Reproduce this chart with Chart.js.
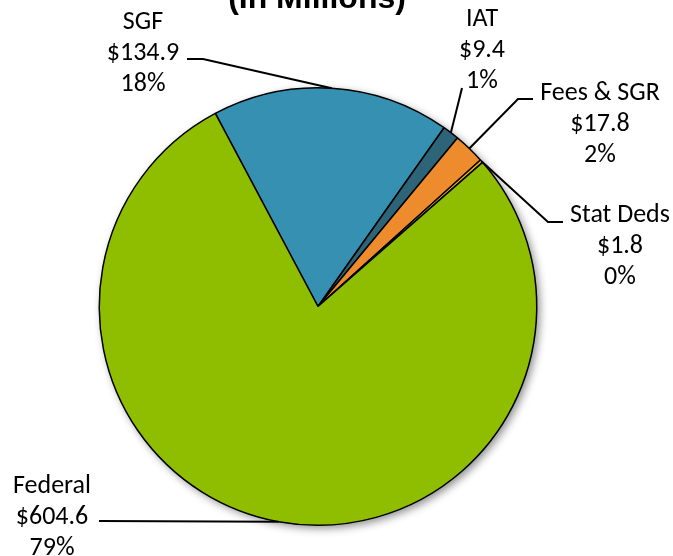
<!DOCTYPE html>
<html>
<head>
<meta charset="utf-8">
<script src="https://cdn.jsdelivr.net/npm/chart.js@4/dist/chart.umd.min.js"></script>
<style>
    body { margin: 0; background: #ffffff; }
    #wrap { width: 673px; height: 556px; }
</style>
</head>
<body>
<div id="wrap"><canvas id="pieChart" width="673" height="556"></canvas></div>
<script>
// data
const categories = ['SGF', 'IAT', 'Fees & SGR', 'Stat Deds', 'Federal'];
const amounts = [134.9, 9.4, 17.8, 1.8, 604.6];
const sliceColors = ['#3590B1', '#2E6478', '#EE8B2D', '#F2B705', '#8FBE00'];

const total = amounts.reduce((a, b) => a + b, 0);

// where each label block sits and how its leader line bends
const labelLayout = [
    { x: 143, y: 22, line: [[187, 59], [203, 59]] },
    { x: 482, y: 19, line: [[462, 88]] },
    { x: 600, y: 93, line: [[533, 99], [518, 99]] },
    { x: 620, y: 215, line: [[563, 222], [548, 222]] },
    { x: 52, y: 486, line: [[99, 521]] }
];

const pieShadow = {
    id: 'pieShadow',
    beforeDatasetsDraw(chart) {
        const arc = chart.getDatasetMeta(0).data[0];
        if (!arc) return;
        const ctx = chart.ctx;
        ctx.save();
        ctx.shadowColor = 'rgba(0,0,0,0.45)';
        ctx.shadowBlur = 8;
        ctx.shadowOffsetX = 3;
        ctx.shadowOffsetY = 3;
        ctx.beginPath();
        ctx.arc(arc.x, arc.y, arc.outerRadius, 0, Math.PI * 2);
        ctx.fillStyle = '#8FBE00';
        ctx.fill();
        ctx.restore();
    }
};

const sliceLabels = {
    id: 'sliceLabels',
    afterDraw(chart) {
        const ctx = chart.ctx;
        const arcs = chart.getDatasetMeta(0).data;

        ctx.save();

        // title, mostly above the visible area
        ctx.fillStyle = '#000000';
        ctx.font = 'bold 32px "Liberation Sans", Arial, sans-serif';
        ctx.textAlign = 'center';
        ctx.textBaseline = 'alphabetic';
        ctx.fillText('(In Millions)', 317, 8);

        ctx.font = '26px Carlito, "Open Sans", sans-serif';
        ctx.textBaseline = 'middle';

        arcs.forEach((arc, i) => {
            const lay = labelLayout[i];
            const pct = Math.round(amounts[i] / total * 100) + '%';
            const lines = [categories[i], '$' + amounts[i].toFixed(1), pct];

            lines.forEach((t, k) => {
                ctx.fillText(t, lay.x, lay.y + k * 31);
            });

            // leader line ends on the rim at the slice middle
            const mid = (arc.startAngle + arc.endAngle) / 2;
            const ex = arc.x + Math.cos(mid) * arc.outerRadius;
            const ey = arc.y + Math.sin(mid) * arc.outerRadius;

            ctx.beginPath();
            ctx.strokeStyle = '#000000';
            ctx.lineWidth = 2;
            ctx.moveTo(lay.line[0][0], lay.line[0][1]);
            lay.line.slice(1).forEach(p => ctx.lineTo(p[0], p[1]));
            ctx.lineTo(ex, ey);
            ctx.stroke();
        });

        ctx.restore();
    }
};

new Chart(document.getElementById('pieChart'), {
    type: 'pie',
    data: {
        labels: categories,
        datasets: [{
            data: amounts,
            backgroundColor: sliceColors,
            borderColor: '#000000',
            borderWidth: 1.5
        }]
    },
    options: {
        responsive: false,
        animation: false,
        rotation: -28,
        layout: {
            padding: { left: 98, right: 135, top: 87, bottom: 30 }
        },
        plugins: {
            legend: { display: false },
            tooltip: { enabled: false },
            title: { display: false }
        }
    },
    plugins: [pieShadow, sliceLabels]
});
</script>
</body>
</html>
